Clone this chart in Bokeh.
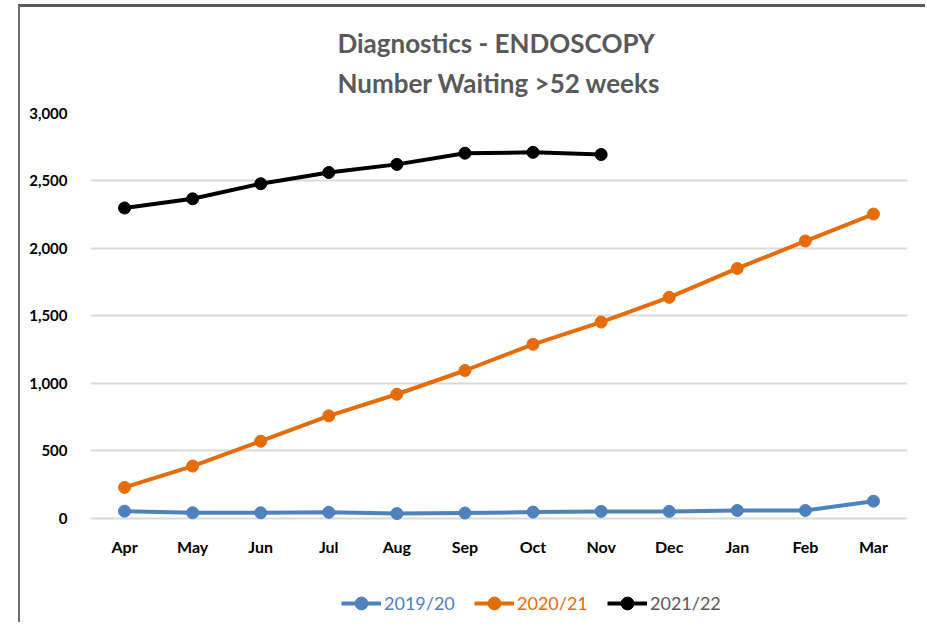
import math
from bokeh.plotting import figure
from bokeh.layouts import column
from bokeh.models import FactorRange, Range1d, FixedTicker, NumeralTickFormatter, Legend, LegendItem
from bokeh.embed import file_html
from bokeh.resources import INLINE

months = ["Apr", "May", "Jun", "Jul", "Aug", "Sep", "Oct", "Nov", "Dec", "Jan", "Feb", "Mar"]
y_2019_20 = [54, 42, 42, 45, 36, 40, 47, 52, 52, 59, 59, 128]
y_2020_21 = [230, 388, 572, 760, 920, 1096, 1290, 1455, 1638, 1852, 2055, 2255]
y_2021_22 = [2300, 2368, 2480, 2563, 2623, 2706, 2712, 2696]
series_names = ["2019/20", "2020/21", "2021/22"]
y_ticks = [0, 500, 1000, 1500, 2000, 2500, 3000]

BLUE = "#4f81bd"
ORANGE = "#e46c0a"
BLACK = "#000000"
FONT = "Lato"

W = 905
p = figure(x_range=FactorRange(*months, range_padding=0), y_range=Range1d(-45, 3000),
           width=W, height=575, output_backend="svg", toolbar_location=None,
           min_border_left=70, min_border_right=18, min_border_top=106, min_border_bottom=58)

p.title.text = "Diagnostics - ENDOSCOPY\nNumber Waiting >52 weeks"
p.title.align = "center"
p.title.text_font = FONT
p.title.text_font_size = "26px"
p.title.text_font_style = "bold"
p.title.text_color = "#595959"
p.title.text_line_height = 1.25
p.title.standoff = 30

p.outline_line_color = None
p.xgrid.grid_line_color = None
p.ygrid.grid_line_color = "#d9d9d9"
p.ygrid.grid_line_width = 2

p.yaxis.ticker = FixedTicker(ticks=y_ticks)
p.yaxis.formatter = NumeralTickFormatter(format="0,0")
for ax in (p.xaxis[0], p.yaxis[0]):
    ax.axis_line_color = None
    ax.major_tick_line_color = None
    ax.minor_tick_line_color = None
    ax.major_label_text_font = FONT
    ax.major_label_text_font_style = "bold"
    ax.major_label_text_font_size = "15px"
    ax.major_label_text_color = "#000000"
p.yaxis.major_label_standoff = 17
p.xaxis.major_label_standoff = 6
p.xaxis.major_label_text_font_size = "16px"

colors = [BLUE, ORANGE, BLACK]
for ys, col in zip((y_2019_20, y_2020_21, y_2021_22), colors):
    xs = months[:len(ys)]
    p.line(xs, ys, line_color=col, line_width=4, line_join="round")
    p.scatter(xs, ys, size=12, fill_color=col, line_color=col)

# legend strip
p2 = figure(x_range=Range1d(0, W), y_range=Range1d(0, 40), width=W, height=40,
            output_backend="svg", toolbar_location=None,
            x_axis_location=None, y_axis_location=None,
            min_border_left=0, min_border_right=0, min_border_top=0, min_border_bottom=0)
p2.grid.visible = False
p2.outline_line_color = None

nan = [math.nan]
leg_x = [251, 384, 517]
label_colors = [BLUE, ORANGE, "#595959"]
for name, col, lx, lc in zip(series_names, colors, leg_x, label_colors):
    ln = p2.line(x=nan, y=nan, line_color=col, line_width=4)
    sc = p2.scatter(x=nan, y=nan, size=12, fill_color=col, line_color=col)
    leg = Legend(items=[LegendItem(label=name, renderers=[ln, sc])], location=(lx, 3),
                 orientation="horizontal", glyph_width=40, glyph_height=32, label_standoff=3,
                 label_text_color=lc, label_text_font=FONT, label_text_font_size="18px",
                 border_line_color=None, background_fill_alpha=0, padding=0, margin=0)
    p2.add_layout(leg, "center")

layout = column(p, p2, spacing=0)
layout.styles = {"margin-left": "18px", "margin-top": "4px",
                 "border-left": "2px solid #6d6d6d", "border-top": "3px solid #595959"}

open("out.html", "w").write(file_html(layout, INLINE))
